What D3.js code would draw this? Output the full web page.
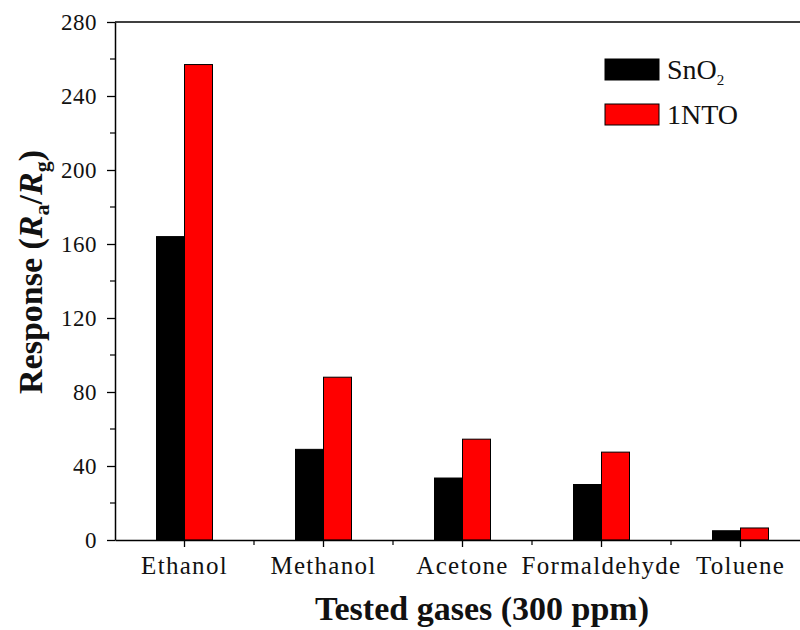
<!DOCTYPE html>
<html>
<head>
<meta charset="utf-8">
<script src="https://cdn.jsdelivr.net/npm/d3@7/dist/d3.min.js"></script>
<style>
  body { margin: 0; background: #fff; }
  svg { display: block; }
</style>
</head>
<body>
<svg id="chart" width="800" height="630"></svg>
<script>
// Gas response of SnO2 and 1NTO sensors at 300 ppm
const gases = ["Ethanol", "Methanol", "Acetone", "Formaldehyde", "Toluene"];
const sno2Values = [164, 49, 33.5, 30, 5];
const ntoValues = [257, 88, 54.5, 47.5, 6.5];
const seriesNames = ["SnO2", "1NTO"];
const seriesColors = ["#000000", "#ff0000"];
const yTicks = [0, 40, 80, 120, 160, 200, 240, 280];

const FONT = "Liberation Serif, DejaVu Serif, serif";
const svg = d3.select("#chart");
const margin = { left: 115, right: -10, top: 22, bottom: 90 };
const W = 800, H = 630;

const x = d3.scaleBand().domain(gases).range([margin.left, W - margin.right]).padding(0);
const y = d3.scaleLinear().domain([0, 280]).range([H - margin.bottom, margin.top]);
const barW = 28;

const rows = gases.map((g, i) => ({ gas: g, values: [sno2Values[i], ntoValues[i]] }));

// bars
const groups = svg.append("g").selectAll("g").data(rows).join("g")
  .attr("transform", d => `translate(${x(d.gas) + x.bandwidth() / 2},0)`);
groups.selectAll("rect").data(d => d.values).join("rect")
  .attr("x", (d, i) => i === 0 ? -barW : 0)
  .attr("y", d => y(d))
  .attr("width", barW)
  .attr("height", d => y(0) - y(d))
  .attr("fill", (d, i) => seriesColors[i])
  .attr("stroke", "#000")
  .attr("stroke-width", 1);

// top frame line
svg.append("line")
  .attr("x1", margin.left).attr("x2", W)
  .attr("y1", y(280)).attr("y2", y(280))
  .attr("stroke", "#000").attr("stroke-width", 1.5);

// y axis with minor ticks
const yAxis = d3.axisLeft(y).tickValues(yTicks).tickSize(8).tickPadding(10).tickSizeOuter(0);
const yg = svg.append("g").attr("transform", `translate(${margin.left},0)`).call(yAxis);
yg.select(".domain").attr("stroke-width", 1.5);
yg.selectAll(".tick line").attr("stroke-width", 1.3);
yg.selectAll(".tick text")
  .style("font-family", FONT).style("font-size", "23px")
  .style("letter-spacing", "0.5px").attr("fill", "#111");
const yMinor = d3.range(20, 280, 40);
svg.append("g").selectAll("line").data(yMinor).join("line")
  .attr("x1", margin.left - 5).attr("x2", margin.left)
  .attr("y1", d => y(d)).attr("y2", d => y(d))
  .attr("stroke", "#000").attr("stroke-width", 1.2);

// x axis: major ticks at category centers, minor ticks at band edges
const xAxis = d3.axisBottom(x).tickSize(7).tickPadding(9).tickSizeOuter(0);
const xg = svg.append("g").attr("transform", `translate(0,${y(0)})`).call(xAxis);
xg.select(".domain").attr("stroke-width", 1.5);
xg.selectAll(".tick line").attr("stroke-width", 1.3);
xg.selectAll(".tick text")
  .style("font-family", FONT).style("font-size", "25px")
  .style("letter-spacing", "1.3px").attr("fill", "#111");
svg.append("g").selectAll("line").data(gases.slice(1)).join("line")
  .attr("x1", d => x(d)).attr("x2", d => x(d))
  .attr("y1", y(0)).attr("y2", y(0) + 5)
  .attr("stroke", "#000").attr("stroke-width", 1.2);

// axis titles
svg.append("text")
  .attr("x", 482).attr("y", 620)
  .attr("text-anchor", "middle")
  .style("font-family", FONT)
  .style("font-size", "34px").style("font-weight", "bold").attr("fill", "#111")
  .text("Tested gases (300 ppm)");

const yt = svg.append("text")
  .attr("transform", "translate(42,272) rotate(-90)")
  .attr("text-anchor", "middle")
  .style("font-family", FONT)
  .style("font-size", "34px").style("font-weight", "bold").attr("fill", "#111");
yt.append("tspan").text("Response (");
yt.append("tspan").style("font-style", "italic").text("R");
yt.append("tspan").attr("dy", 7).style("font-size", "22px").text("a");
yt.append("tspan").attr("dy", -7).text("/");
yt.append("tspan").style("font-style", "italic").text("R");
yt.append("tspan").attr("dy", 7).style("font-size", "22px").text("g");
yt.append("tspan").attr("dy", -7).text(")");

// legend
const legend = svg.append("g").attr("transform", "translate(605,59)");
seriesNames.forEach((name, i) => {
  const row = legend.append("g").attr("transform", `translate(0,${i * 45})`);
  row.append("rect").attr("width", 54).attr("height", 21)
    .attr("fill", seriesColors[i]).attr("stroke", "#000").attr("stroke-width", 1);
  const t = row.append("text").attr("x", 62).attr("y", 20)
    .style("font-family", FONT).style("font-size", "28px").attr("fill", "#111");
  if (name === "SnO2") {
    t.append("tspan").text("SnO");
    t.append("tspan").attr("dy", 6).style("font-size", "15px").text("2");
  } else {
    t.text(name);
  }
});
</script>
</body>
</html>
